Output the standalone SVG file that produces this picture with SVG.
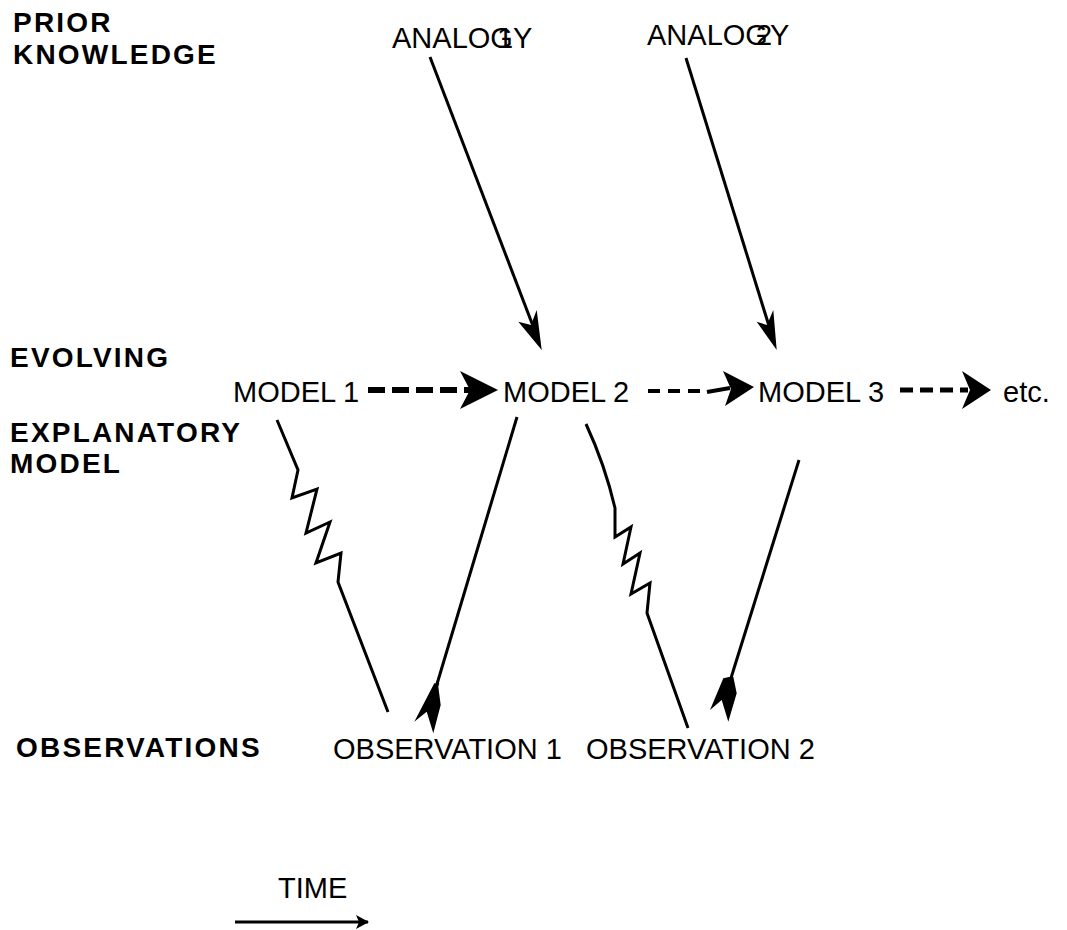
<svg xmlns="http://www.w3.org/2000/svg" width="1067" height="930" viewBox="0 0 1067 930">
<style>
.lbl{font-family:"Liberation Sans",Arial,sans-serif;font-weight:bold;font-size:28px;letter-spacing:2.2px;fill:#000}
.t{font-family:"Liberation Sans",Arial,sans-serif;font-size:29px;fill:#000}
.ln{fill:none;stroke:#000;stroke-width:3;stroke-linejoin:miter}
.hd{fill:#000;stroke:none}
</style>
<defs>
<marker id="small" markerWidth="14" markerHeight="14" refX="12" refY="7" orient="auto" markerUnits="userSpaceOnUse">
<path d="M0,0 L13,7 L0,14 L3,7 Z" fill="#000"/>
</marker>
</defs>
<rect width="1067" height="930" fill="#fff"/>
<g id="labels">
<text class="lbl" x="13" y="32">PRIOR</text>
<text class="lbl" x="13" y="64">KNOWLEDGE</text>
<text class="lbl" x="10" y="367">EVOLVING</text>
<text class="lbl" x="10" y="442">EXPLANATORY</text>
<text class="lbl" x="10" y="473">MODEL</text>
<text class="lbl" x="16" y="757">OBSERVATIONS</text>
</g>
<g id="analogy1"><text class="t" x="392" y="48">ANALOG<tspan dx="-16">1</tspan>Y</text></g>
<g id="analogy2"><text class="t" x="647" y="45">ANALOG<tspan dx="-12">2</tspan><tspan dx="-2">Y</tspan></text></g>
<g id="model1"><text class="t" x="233" y="402">MODEL 1</text></g>
<g id="model2"><text class="t" x="503" y="402">MODEL 2</text></g>
<g id="model3"><text class="t" x="758" y="402">MODEL 3</text></g>
<g id="etc"><text class="t" x="1003" y="402">etc.</text></g>
<g id="observation1"><text class="t" x="333" y="759">OBSERVATION 1</text></g>
<g id="observation2"><text class="t" x="586" y="759">OBSERVATION 2</text></g>
<g id="time"><text class="t" x="278" y="898">TIME</text></g>
<g id="connectors">
<line class="ln" x1="430" y1="57" x2="533" y2="326"/>
<polygon class="hd" points="536.7,310 541.7,350 518.3,321.7 531,325"/>
<line class="ln" x1="686" y1="58" x2="769" y2="326"/>
<polygon class="hd" points="773.3,310 776.7,350 756.7,321.7 767,325"/>
<line x1="368" y1="390" x2="470" y2="390" stroke="#000" stroke-width="6" stroke-dasharray="17 7"/>
<polygon class="hd" points="498,390 460,371 470,390 460,409"/>
<line x1="648" y1="391" x2="702" y2="391" stroke="#000" stroke-width="4" stroke-dasharray="12 8"/>
<line x1="707" y1="392" x2="730" y2="388" stroke="#000" stroke-width="4"/>
<polygon class="hd" points="754,387 723,371 731,389 725,406"/>
<line x1="900" y1="390" x2="968" y2="390" stroke="#000" stroke-width="5" stroke-dasharray="13 7"/>
<polygon class="hd" points="991,390 962,371 970,390 962,409"/>
<polyline class="ln" points="277,420 298,470 292,498 317,489 306,533 330,522 316,563 341,553 338,582 388,712"/>
<line class="ln" x1="517" y1="417" x2="437" y2="684"/>
<polygon class="hd" points="434.3,683.3 414.3,721.7 426.7,711.7 433.3,733.3 440.7,705 438.3,686.7 439.3,683.3"/>
<path class="ln" d="M586,424 Q605,465 615,508 L615,537 L631,527 L623,564 L640,553 L631,594 L650,583 L647,613 L688,728"/>
<line class="ln" x1="799" y1="460" x2="731" y2="678"/>
<polygon class="hd" points="729,677 723.3,678.3 710,710 721.7,700 728.3,721.7 736.7,693.3 733.3,676.7"/>
<line x1="235" y1="922" x2="368" y2="922" stroke="#000" stroke-width="3" marker-end="url(#small)"/>
</g>
</svg>
